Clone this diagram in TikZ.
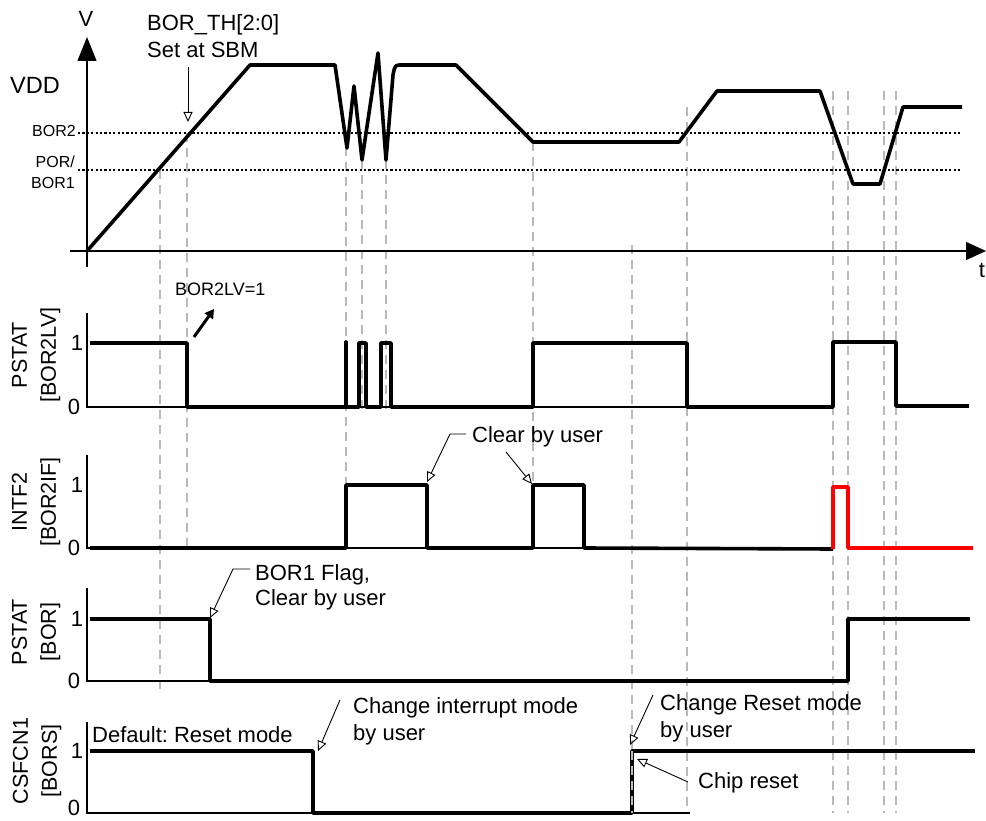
\documentclass[tikz,border=0pt]{standalone}
\usepackage{fontspec}
\setmainfont{Liberation Sans}
\usepackage{tikz}
\usetikzlibrary{arrows.meta}
\tikzset{
  wave/.style={line width=3.6pt, line join=round},
  guide/.style={draw=gray!55, line width=1.2pt, dash pattern=on 9pt off 6pt},
  thres/.style={line width=1.1pt, dash pattern=on 2.2pt off 2.2pt},
  axis/.style={line width=1.3pt},
  callout/.style={-{Triangle[open, length=10pt, width=9pt]}, line width=0.9pt},
  txt/.style={inner sep=0pt, align=left},
  siglabel/.style={inner sep=0pt, rotate=90, align=center, font=\fontsize{21.5}{29}\selectfont},
  lvl/.style={inner sep=0pt}
  }

\begin{document}
\frenchspacing
\begin{tikzpicture}[x=1pt, y=-1pt, font=\fontsize{22}{27}\selectfont]
	\useasboundingbox (0,0) rectangle (986,821);
	% guide lines
	\foreach \gx/\gtop/\gbot in {160/170/690, 187/133/553, 346/147/485, 362/160/410, 386/160/410, 533/142/485, 632/245/813, 687/107/813, 833/91/813, 848/91/813, 884/91/813, 896/91/813}
		\draw [guide] (\gx,\gtop) -- (\gx,\gbot);
	% thresholds
	\draw [thres] (78,133) -- (962,133);
	\draw [thres] (78,170) -- (962,170);
	\node [lvl, anchor=base east] (bor2) at (76,137) {\fontsize{16}{19}\selectfont BOR2};
	\node [lvl, anchor=north east, align=right, font=\fontsize{16}{21}\selectfont] (bor1) at (75,156) {POR/\\BOR1};
	% VDD axes
	\draw [axis, -{Triangle[length=24pt, width=19pt]}] (87,267) -- (87,37);
	\draw [axis, -{Triangle[length=20pt, width=18pt]}] (70,251) -- (986,251);
	\node [lvl, anchor=base] (vlab) at (86,27) {V};
	\node [lvl, anchor=base] (tlab) at (982,278) {t};
	\node [lvl, anchor=base west, font=\fontsize{23.5}{27}\selectfont] (vdd) at (10,94) {VDD};
	% VDD waveform
	\draw [wave] (87,251) -- (250,65) -- (335,65) -- (347,148) -- (354,86) -- (362,160) -- (378,53) -- (386,160)
		-- (393,75) .. controls (395,65) .. (402,65) -- (456,65) -- (533,142) -- (679,142) -- (717,91)
		-- (820,91) -- (853,184) -- (880,184) -- (903,107) -- (962,107);
	% level panels
	\foreach \ptop/\pone/\pzero in {313/343/407, 455/485/548, 588/619/681, 722/751/813} {
		\draw [axis] (87,\ptop) -- (87,\pzero) -- (690,\pzero);
		\node [lvl] (one\pone) at (77,\pone) {1};
	}
	\node [lvl] (zero407) at (74,407) {0};
	\node [lvl] (zero548) at (74,548) {0};
	\node [lvl] (zero681) at (74,681) {0};
	\node [lvl] (zero813) at (74,808) {0};
	\node [siglabel] (sig1) at (36,355) {PSTAT\\{[BOR2LV]}};
	\node [siglabel] (sig2) at (36,502) {INTF2\\{[BOR2IF]}};
	\node [siglabel] (sig3) at (36,632) {PSTAT\\{[BOR]}};
	\node [siglabel] (sig4) at (37,761) {CSFCN1\\{[BORS]}};
	% PSTAT[BOR2LV]
	\draw [wave] (90,343) -- (187,343) -- (187,407) -- (346,407) -- (346,342) -- (346,407) -- (359,407) -- (359,343)
		-- (366,343) -- (366,407) -- (381,407) -- (381,343) -- (391,343) -- (391,407) -- (533,407) -- (533,343)
		-- (687,343) -- (687,407) -- (833,407) -- (833,342) -- (896,342) -- (896,406) -- (969,406);
	% INTF2[BOR2IF]
	\draw [wave] (90,548) -- (346,548) -- (346,485) -- (427,485) -- (427,548) -- (533,548) -- (533,485)
		-- (584,485) -- (584,548) -- (833,549);
	\draw [wave, red] (833,549) -- (833,487) -- (848,487) -- (848,548) -- (973,548);
	% PSTAT[BOR]
	\draw [wave] (90,619) -- (210,619) -- (210,681) -- (848,681) -- (848,619) -- (970,619);
	% CSFCN1[BORS]
	\draw [wave] (90,751) -- (313,751) -- (313,813) -- (632,813) -- (632,751) -- (975,751);
	\draw [guide] (632,751) -- (632,813);
	% callouts
	\node [txt, anchor=north west] (borth) at (147,14) {BOR\_TH[2:0]\\Set at SBM};
	\coordinate (borthS) at (188,67);
	\coordinate (borthT) at (188,122);
	\draw [callout] (borthS) to (borthT);
	\node [txt, anchor=base west, font=\fontsize{18}{22}\selectfont] (bor2lvtxt) at (175,296) {BOR2LV=1};
	\coordinate (bor2lvS) at (194,337);
	\coordinate (bor2lvT) at (214,309);
	\draw [line width=3pt, -{Triangle[length=9pt, width=10pt]}] (bor2lvS) to (bor2lvT);
	\node [txt, anchor=base west] (clr) at (472,442) {Clear by user};
	\coordinate (clrK) at (450,434);
	\coordinate (clrA) at (427,482);
	\coordinate (clrS) at (506,452);
	\coordinate (clrB) at (532,484);
	\draw [callout] (clr.west |- clrK) ++(-6,0) -- (clrK) -- (clrA);
	\draw [callout] (clrS) to (clrB);
	\node [txt, anchor=north west, font=\fontsize{22}{25}\selectfont] (borflag) at (255,564) {BOR1 Flag,\\Clear by user};
	\coordinate (borflagK) at (233,569);
	\coordinate (borflagT) at (210,618);
	\draw [callout] (250,569) -- (borflagK) -- (borflagT);
	\node [txt, anchor=base west] (dflt) at (92,742) {Default: Reset mode};
	\node [txt, anchor=north west] (chint) at (353,697) {Change interrupt mode\\by user};
	\coordinate (chintS) at (340,700);
	\coordinate (chintT) at (318,751);
	\draw [callout] (chintS) to (chintT);
	\node [txt, anchor=north west] (chrst) at (660,694) {Change Reset mode\\by user};
	\coordinate (chrstS) at (653,695);
	\coordinate (chrstT) at (630,745);
	\draw [callout] (chrstS) to (chrstT);
	\node [txt, anchor=base west] (chip) at (698,788) {Chip reset};
	\coordinate (chipS) at (688,782);
	\coordinate (chipT) at (637,759);
	\draw [callout] (chipS) to (chipT);
\end{tikzpicture}
\end{document}
